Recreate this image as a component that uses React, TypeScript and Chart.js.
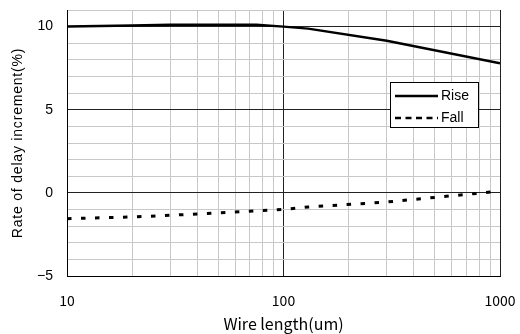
import React, { useEffect, useRef } from "react";
import { Chart, registerables } from "chart.js";

Chart.register(...registerables);

const wireLength = [10, 20, 30, 75, 100, 130, 300, 1000];
const riseValues = [10.0, 10.07, 10.12, 10.12, 10.0, 9.88, 9.15, 7.8];
const fallValues = [-1.55, -1.45, -1.35, -1.08, -1.0, -0.85, -0.55, 0.1];
const xTickValues = [10, 20, 30, 40, 50, 60, 70, 80, 90, 100, 200, 300, 400, 500, 600, 700, 800, 900, 1000];
const xLabelValues = [10, 100, 1000];
const yMajorValues = [-5, 0, 5, 10];
const seriesNames = ["Rise", "Fall"];
const xTitle = "Wire length(um)";
const yTitle = "Rate of delay increment(%)";

const legendPlugin = {
  id: "boxLegend",
  afterDraw(chart: any) {
    const { ctx, chartArea } = chart;
    // y axis title with wider letter spacing
    ctx.save();
    ctx.translate(18.5, (chartArea.top + chartArea.bottom) / 2);
    ctx.rotate(-Math.PI / 2);
    ctx.font = "14px 'Liberation Sans', Arial, sans-serif";
    try {
      (ctx as any).letterSpacing = "0.8px";
    } catch (e) {}
    ctx.textAlign = "center";
    ctx.textBaseline = "middle";
    ctx.fillStyle = "#000";
    ctx.fillText(yTitle, 0, 0);
    ctx.restore();

    const x = chartArea.right - 110;
    const y = chartArea.top + 72;
    const w = 88;
    const h = 45;
    ctx.save();
    ctx.fillStyle = "#fff";
    ctx.fillRect(x, y, w, h);
    ctx.strokeStyle = "#000";
    ctx.lineWidth = 1;
    ctx.strokeRect(x + 0.5, y + 0.5, w, h);
    ctx.font = "14px 'Liberation Sans', Arial, sans-serif";
    ctx.textBaseline = "middle";
    ctx.fillStyle = "#000";
    ctx.lineWidth = 2.5;
    ctx.beginPath();
    ctx.moveTo(x + 5, y + 14);
    ctx.lineTo(x + 48, y + 14);
    ctx.stroke();
    ctx.fillText(seriesNames[0], x + 51, y + 14);
    ctx.setLineDash([6, 4.5]);
    ctx.beginPath();
    ctx.moveTo(x + 5, y + 36);
    ctx.lineTo(x + 48, y + 36);
    ctx.stroke();
    ctx.setLineDash([]);
    ctx.fillText(seriesNames[1], x + 51, y + 36);
    ctx.restore();
  },
};

export default function App() {
  const ref = useRef<HTMLCanvasElement>(null);
  useEffect(() => {
    if (!ref.current) return;
    const chart = new Chart(ref.current, {
      type: "line",
      data: {
        datasets: [
          {
            label: seriesNames[0],
            data: wireLength.map((x, i) => ({ x, y: riseValues[i] })),
            borderColor: "#000",
            borderWidth: 2.5,
            pointRadius: 0,
            tension: 0,
          },
          {
            label: seriesNames[1],
            data: wireLength.map((x, i) => ({ x, y: fallValues[i] })),
            borderColor: "#000",
            borderWidth: 3,
            borderDash: [4.5, 9.5],
            pointRadius: 0,
            tension: 0,
          },
        ],
      },
      options: {
        responsive: false,
        animation: false,
        devicePixelRatio: 1,
        layout: { padding: { left: 0, top: 10, right: 20, bottom: 0 } },
        plugins: { legend: { display: false }, tooltip: { enabled: false } },
        scales: {
          x: {
            type: "logarithmic",
            min: 10,
            max: 1000,
            afterBuildTicks: (scale: any) => {
              scale.ticks = xTickValues.map((v) => ({ value: v }));
            },
            afterFit: (scale: any) => {
              scale.height = 58;
              scale.paddingLeft = 0;
              scale.paddingRight = 0;
            },
            ticks: {
              autoSkip: false,
              maxRotation: 0,
              padding: 16,
              color: "#000",
              font: { size: 14, family: "'Noto Sans CJK JP', 'Liberation Sans', sans-serif" },
              callback: (v: any) => (xLabelValues.includes(Number(v)) ? String(v) : ""),
            },
            grid: {
              drawTicks: false,
              color: (c: any) => (xLabelValues.includes(c.tick?.value) ? "#222" : "#c8c8c8"),
              lineWidth: 1,
            },
            border: { color: "#000", width: 1 },
            title: {
              display: true,
              text: xTitle,
              color: "#000",
              font: { size: 16, family: "'Noto Sans CJK JP', 'Liberation Sans', sans-serif" },
              padding: { top: 0, bottom: 0 },
            },
          },
          y: {
            min: -5,
            max: 11,
            afterFit: (scale: any) => {
              scale.width = 67;
              scale.paddingTop = 0;
              scale.paddingBottom = 0;
            },
            ticks: {
              stepSize: 1,
              autoSkip: false,
              padding: 14,
              color: "#000",
              font: { size: 14, family: "'Liberation Sans', Arial, sans-serif" },
              callback: (v: any) => {
                const n = Number(v);
                if (!yMajorValues.includes(n)) return "";
                return n < 0 ? "\u2212" + Math.abs(n) : String(n);
              },
            },
            grid: {
              drawTicks: false,
              color: (c: any) => (yMajorValues.includes(c.tick?.value) ? "#222" : "#c8c8c8"),
              lineWidth: 1,
            },
            border: { color: "#000", width: 1 },
            title: { display: false },
          },
        },
      },
      plugins: [legendPlugin],
    } as any);
    return () => chart.destroy();
  }, []);
  return (
    <div style={{ position: "fixed", left: 0, top: 0, width: 520, height: 334, background: "#fff" }}>
      <canvas ref={ref} width={520} height={334} style={{ width: 520, height: 334, display: "block" }} />
    </div>
  );
}
